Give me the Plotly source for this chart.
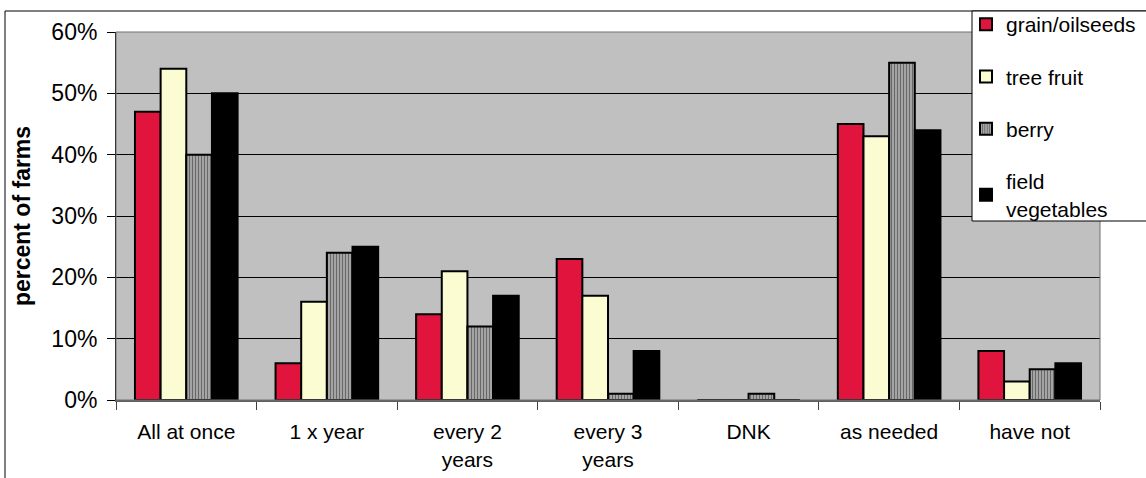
import plotly.graph_objects as go

# Survey responses: how often farms do the task, by farm type (percent of farms)
categories = ["All at once", "1 x year", "every 2<br>years", "every 3<br>years",
              "DNK", "as needed", "have not"]
grain_oilseeds = [47, 6, 14, 23, 0, 45, 8]
tree_fruit = [54, 16, 21, 17, 0, 43, 3]
berry = [40, 24, 12, 1, 1, 55, 5]
field_vegetables = [50, 25, 17, 8, 0, 44, 6]
y_ticks = [0, 10, 20, 30, 40, 50, 60]
y_tick_labels = ["0%", "10%", "20%", "30%", "40%", "50%", "60%"]

W, H = 1146, 478
ML, MR, MT, MB = 116, 46, 32, 78
PW, PH = W - ML - MR, H - MT - MB


def px_x(x):
    return (x - ML) / PW


def px_y(y):
    return (H - MB - y) / PH


FONT = "Liberation Sans, Arial, sans-serif"
OUTLINE = dict(color="black", width=2)

fig = go.Figure()
fig.add_trace(go.Bar(x=categories, y=grain_oilseeds, name="grain/oilseeds",
                     marker=dict(color="#E0143C", line=OUTLINE), legendgroup="a"))
fig.add_trace(go.Bar(x=categories, y=tree_fruit, name="tree fruit",
                     marker=dict(color="#FCFCD2", line=OUTLINE), legendgroup="b"))
fig.add_trace(go.Bar(x=categories, y=berry, name="berry",
                     marker=dict(color="#9a9a9a", line=OUTLINE,
                                 pattern=dict(shape="|", fgcolor="#202020",
                                              bgcolor="#b0b0b0", size=3,
                                              solidity=0.45)),
                     legendgroup="c"))
fig.add_trace(go.Bar(x=categories, y=field_vegetables, name="field<br>vegetables",
                     marker=dict(color="black", line=OUTLINE), legendgroup="d"))

fig.update_layout(
    width=W, height=H,
    margin=dict(l=ML, r=MR, t=MT, b=MB, pad=0, autoexpand=False),
    paper_bgcolor="white",
    plot_bgcolor="#C0C0C0",
    barmode="group",
    bargap=0.27,
    bargroupgap=0,
    font=dict(family=FONT, size=21, color="black"),
    showlegend=True,
    legend=dict(x=px_x(966), y=px_y(4), xanchor="left", yanchor="top",
                bgcolor="rgba(0,0,0,0)", borderwidth=0,
                font=dict(family=FONT, size=21, color="black"),
                traceorder="grouped", tracegroupgap=22,
                itemclick=False),
    xaxis=dict(
        type="category",
        tickson="boundaries",
        ticks="outside", ticklen=8, tickcolor="#404040", tickwidth=1,
        showline=True, linecolor="#606060", linewidth=2,
        showgrid=False,
        ticklabelstandoff=12,
        tickfont=dict(family=FONT, size=21),
    ),
    yaxis=dict(
        range=[0, 60],
        tickvals=y_ticks, ticktext=y_tick_labels,
        ticks="outside", ticklen=8, tickcolor="black", tickwidth=1,
        showline=True, linecolor="black", linewidth=1,
        showgrid=True, gridcolor="black", gridwidth=1,
        zeroline=False,
        ticklabelstandoff=5,
        tickfont=dict(family=FONT, size=23),
        title=dict(text="<b>percent of farms</b>", standoff=14,
                   font=dict(family=FONT, size=23)),
    ),
    shapes=[
        # grey border around the plotting area
        dict(type="rect", xref="paper", yref="paper", x0=0, x1=1, y0=0, y1=1,
             line=dict(color="#707070", width=1), layer="above"),
        # outer chart frame (top and left edges)
        dict(type="line", xref="paper", yref="paper",
             x0=px_x(5), x1=px_x(W + 5), y0=px_y(11), y1=px_y(11),
             line=dict(color="black", width=1)),
        dict(type="line", xref="paper", yref="paper",
             x0=px_x(5), x1=px_x(5), y0=px_y(11), y1=px_y(H + 5),
             line=dict(color="black", width=1)),
        # legend box
        dict(type="rect", xref="paper", yref="paper",
             x0=px_x(972), x1=px_x(W + 10), y0=px_y(221), y1=px_y(11),
             fillcolor="white", line=dict(color="black", width=1),
             layer="above"),
    ],
)

fig.write_html("out.html")
